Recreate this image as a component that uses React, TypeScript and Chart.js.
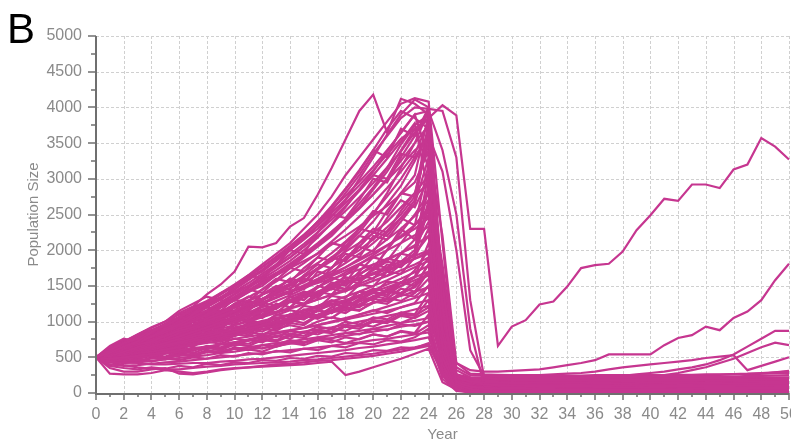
import React, { useEffect, useRef } from 'react';
import { Chart, registerables } from 'chart.js';

Chart.register(...registerables);

// Years (x categories)
const years = [
  0, 1, 2, 3, 4, 5, 6, 7, 8, 9, 10, 11, 12, 13, 14, 15, 16, 17, 18, 19, 20, 21, 22, 23, 24, 25,
  26, 27, 28, 29, 30, 31, 32, 33, 34, 35, 36, 37, 38, 39, 40, 41, 42, 43, 44, 45, 46, 47, 48, 49, 50,
];

// Y tick values
const yMajorTicks = [0, 500, 1000, 1500, 2000, 2500, 3000, 3500, 4000, 4500, 5000];
const yMinorTicks = [250, 750, 1250, 1750, 2250, 2750, 3250, 3750, 4250, 4750];

// Population trajectories (one per simulation run), years 0..50
const s01 = [
  500, 560, 650, 720, 850, 960, 1120, 1210, 1380, 1520,
  1700, 2050, 2040, 2100, 2330, 2450, 2780, 3150, 3550, 3950,
  4180, 3650, 4120, 4050, 3900, 1200, 150, 90, 70, 60,
  60, 60, 55, 55, 50, 50, 50, 45, 45, 45,
  40, 40, 40, 40, 35, 35, 35, 35, 30, 30, 30,
];
const s02 = [
  500, 580, 640, 700, 790, 880, 960, 1060, 1150, 1270,
  1390, 1500, 1640, 1780, 1900, 2050, 2250, 2470, 2700, 3000,
  3300, 3620, 3900, 4110, 4000, 1500, 220, 160, 150, 145,
  140, 140, 145, 150, 150, 145, 140, 140, 135, 140,
  145, 150, 150, 145, 140, 140, 135, 135, 140, 140, 140,
];
const s03 = [
  500, 560, 620, 700, 780, 850, 940, 1000, 1100, 1200,
  1300, 1420, 1500, 1650, 1750, 1900, 2050, 2200, 2400, 2600,
  2850, 3100, 3400, 3700, 3850, 4030, 3890, 2300, 2300, 660,
  930, 1020, 1240, 1280, 1490, 1750, 1790, 1810, 1980, 2280,
  2490, 2720, 2690, 2920, 2920, 2870, 3130, 3200, 3570, 3450, 3270,
];
const s04 = [
  500, 600, 700, 760, 880, 940, 1050, 1180, 1250, 1400,
  1520, 1650, 1800, 1950, 2100, 2300, 2500, 2750, 3050, 3300,
  3550, 3800, 4050, 4130, 4080, 2100, 260, 150, 120, 110,
  105, 100, 100, 100, 95, 95, 100, 100, 105, 105,
  100, 100, 95, 95, 100, 100, 100, 105, 105, 100, 100,
];
const s05 = [
  500, 540, 610, 680, 720, 800, 870, 920, 1010, 1080,
  1150, 1250, 1320, 1420, 1530, 1620, 1750, 1900, 2050, 2250,
  2500, 2800, 3150, 3500, 3950, 3400, 2500, 900, 100, 60,
  40, 30, 25, 20, 20, 20, 20, 20, 20, 20,
  20, 20, 20, 20, 20, 20, 20, 20, 20, 20, 20,
];
const s06 = [
  500, 570, 640, 720, 800, 900, 980, 1100, 1210, 1330,
  1460, 1600, 1700, 1850, 2000, 2150, 2350, 2550, 2800, 3050,
  3350, 3600, 3850, 4000, 3980, 3950, 3300, 1300, 220, 190,
  185, 180, 180, 180, 175, 175, 180, 180, 185, 185,
  180, 180, 175, 175, 170, 175, 180, 185, 190, 195, 200,
];
const s07 = [
  500, 520, 580, 640, 700, 760, 840, 900, 980, 1060,
  1140, 1230, 1320, 1410, 1500, 1620, 1750, 1880, 2030, 2200,
  2400, 2650, 2900, 3250, 3650, 1100, 120, 60, 30, 20,
  15, 10, 10, 10, 10, 10, 10, 10, 10, 10,
  10, 10, 10, 10, 10, 10, 10, 10, 10, 10, 10,
];
const s08 = [
  500, 590, 680, 780, 860, 960, 1070, 1200, 1290, 1400,
  1500, 1620, 1760, 1900, 2020, 2200, 2400, 2600, 2850, 3100,
  3400, 3700, 3950, 3850, 3700, 800, 100, 60, 50, 45,
  45, 40, 40, 40, 40, 40, 40, 40, 40, 40,
  40, 40, 40, 40, 40, 40, 40, 40, 40, 40, 40,
];
const s09 = [
  500, 550, 620, 690, 740, 820, 900, 960, 1040, 1120,
  1200, 1300, 1380, 1480, 1580, 1700, 1820, 1960, 2120, 2300,
  2520, 2750, 3000, 3300, 3600, 3100, 2000, 600, 240, 230,
  225, 225, 220, 220, 220, 215, 215, 220, 220, 225,
  225, 230, 230, 230, 225, 225, 230, 235, 240, 245, 250,
];
const s10 = [
  500, 560, 640, 700, 780, 860, 940, 1030, 1120, 1220,
  1310, 1420, 1540, 1650, 1780, 1920, 2080, 2250, 2430, 2650,
  2880, 3150, 3480, 3750, 3900, 600, 110, 90, 85, 80,
  80, 80, 80, 80, 80, 75, 75, 75, 75, 75,
  75, 75, 80, 80, 80, 80, 80, 80, 80, 80, 80,
];
const s11 = [
  500, 540, 590, 650, 700, 760, 830, 890, 960, 1030,
  1100, 1180, 1260, 1340, 1420, 1510, 1600, 1700, 1820, 1950,
  2100, 2270, 2450, 2650, 3300, 900, 160, 130, 125, 120,
  120, 120, 120, 115, 115, 115, 120, 120, 120, 120,
  120, 125, 125, 125, 120, 120, 120, 120, 120, 120, 120,
];
const s12 = [
  500, 580, 660, 720, 800, 850, 920, 1000, 1050, 1130,
  1220, 1290, 1380, 1450, 1530, 1640, 1730, 1850, 1980, 2100,
  2240, 2400, 2600, 2800, 3050, 500, 50, 20, 10, 5,
  5, 5, 5, 0, 0, 0, 0, 0, 0, 0,
  0, 0, 0, 0, 0, 0, 0, 0, 0, 0, 0,
];
const s13 = [
  500, 530, 580, 620, 680, 740, 790, 860, 920, 990,
  1060, 1120, 1200, 1290, 1370, 1460, 1560, 1650, 1760, 1880,
  2000, 2150, 2300, 2480, 2700, 1500, 230, 180, 170, 165,
  160, 160, 160, 160, 160, 155, 155, 160, 160, 160,
  160, 160, 160, 160, 165, 165, 160, 160, 160, 160, 160,
];
const s14 = [
  500, 560, 630, 690, 750, 820, 880, 950, 1010, 1080,
  1160, 1230, 1300, 1390, 1470, 1550, 1650, 1760, 1880, 2000,
  2150, 2320, 2500, 2750, 2950, 1800, 320, 220, 210, 205,
  200, 200, 200, 195, 195, 200, 200, 200, 205, 205,
  200, 200, 200, 200, 200, 205, 210, 215, 220, 220, 220,
];
const s15 = [
  500, 600, 710, 820, 910, 1000, 1100, 1180, 1280, 1330,
  1420, 1500, 1580, 1680, 1750, 1850, 1950, 2080, 2200, 2330,
  2480, 2620, 2780, 2950, 3400, 2200, 420, 270, 260, 255,
  250, 250, 250, 250, 245, 245, 250, 250, 250, 250,
  250, 250, 255, 255, 260, 260, 265, 270, 280, 290, 300,
];
const s16 = [
  500, 520, 560, 600, 650, 700, 760, 820, 880, 940,
  1000, 1070, 1140, 1220, 1300, 1390, 1480, 1580, 1690, 1800,
  1930, 2060, 2200, 2350, 2550, 700, 80, 40, 35, 30,
  30, 30, 30, 30, 30, 30, 30, 30, 30, 30,
  30, 30, 30, 30, 30, 30, 30, 30, 30, 30, 30,
];
const s17 = [
  500, 540, 600, 640, 700, 750, 800, 850, 910, 970,
  1030, 1090, 1150, 1210, 1280, 1350, 1420, 1500, 1580, 1670,
  1760, 1860, 1960, 2070, 2200, 600, 100, 75, 70, 70,
  70, 70, 70, 70, 70, 70, 70, 65, 65, 65,
  65, 65, 65, 65, 65, 65, 65, 65, 65, 65, 65,
];
const s18 = [
  500, 570, 620, 680, 730, 790, 840, 900, 950, 1010,
  1060, 1120, 1170, 1230, 1290, 1350, 1410, 1480, 1540, 1610,
  1680, 1760, 1840, 1920, 2000, 1100, 170, 120, 115, 110,
  110, 110, 110, 110, 110, 110, 110, 110, 110, 105,
  105, 105, 105, 110, 110, 110, 110, 110, 110, 110, 110,
];
const s19 = [
  500, 520, 560, 590, 630, 670, 710, 760, 800, 850,
  890, 940, 990, 1040, 1100, 1160, 1220, 1280, 1350, 1420,
  1500, 1580, 1670, 1760, 1850, 400, 40, 15, 10, 10,
  5, 5, 5, 5, 5, 5, 5, 5, 5, 5,
  5, 5, 5, 5, 5, 5, 5, 5, 5, 5, 5,
];
const s20 = [
  500, 580, 650, 740, 800, 880, 950, 1010, 1080, 1150,
  1200, 1260, 1320, 1370, 1430, 1480, 1540, 1600, 1660, 1730,
  1800, 1880, 1960, 2050, 2400, 1300, 230, 200, 195, 190,
  190, 190, 190, 190, 190, 190, 190, 190, 190, 190,
  190, 195, 195, 195, 195, 190, 190, 190, 190, 190, 190,
];
const s21 = [
  500, 550, 600, 660, 720, 770, 820, 880, 930, 990,
  1050, 1100, 1160, 1220, 1280, 1340, 1400, 1460, 1530, 1600,
  1660, 1730, 1800, 1880, 1950, 800, 120, 95, 90, 90,
  90, 90, 90, 90, 90, 90, 90, 90, 90, 90,
  90, 90, 90, 90, 90, 90, 90, 90, 90, 90, 90,
];
const s22 = [
  500, 540, 590, 620, 670, 700, 740, 790, 830, 870,
  920, 960, 1010, 1050, 1100, 1150, 1200, 1250, 1300, 1360,
  1420, 1480, 1550, 1620, 1700, 300, 40, 20, 15, 15,
  15, 15, 15, 15, 15, 15, 15, 15, 15, 15,
  15, 15, 15, 15, 15, 15, 15, 15, 15, 15, 15,
];
const s23 = [
  500, 510, 540, 580, 610, 650, 690, 730, 770, 810,
  860, 900, 950, 1000, 1050, 1110, 1170, 1230, 1300, 1370,
  1440, 1520, 1600, 1690, 1780, 1000, 260, 170, 160, 155,
  150, 150, 150, 150, 150, 150, 150, 150, 150, 150,
  150, 150, 150, 150, 150, 150, 150, 150, 150, 150, 150,
];
const s24 = [
  500, 560, 620, 700, 740, 800, 880, 940, 990, 1060,
  1130, 1200, 1270, 1340, 1410, 1480, 1560, 1640, 1720, 1810,
  1900, 2000, 2100, 2210, 2330, 1700, 360, 250, 240, 235,
  235, 235, 230, 230, 230, 230, 230, 235, 235, 240,
  240, 240, 245, 245, 250, 255, 260, 265, 270, 275, 280,
];
const s25 = [
  500, 520, 540, 560, 580, 610, 640, 670, 700, 730,
  760, 790, 820, 850, 880, 910, 950, 990, 1030, 1070,
  1110, 1150, 1200, 1250, 1300, 500, 90, 55, 50, 50,
  50, 50, 50, 50, 50, 50, 50, 50, 50, 50,
  50, 50, 50, 50, 50, 50, 50, 50, 50, 50, 50,
];
const s26 = [
  500, 480, 500, 520, 550, 570, 600, 630, 650, 680,
  710, 740, 770, 800, 830, 860, 890, 920, 960, 1000,
  1040, 1080, 1120, 1170, 1220, 400, 60, 30, 25, 25,
  25, 25, 25, 25, 25, 25, 25, 25, 25, 25,
  25, 25, 25, 25, 25, 25, 25, 25, 25, 25, 25,
];
const s27 = [
  500, 530, 570, 600, 640, 690, 730, 760, 800, 840,
  870, 910, 940, 980, 1010, 1050, 1090, 1130, 1170, 1220,
  1260, 1310, 1360, 1420, 1480, 600, 150, 135, 130, 130,
  130, 130, 130, 130, 130, 130, 130, 130, 130, 130,
  130, 130, 130, 130, 130, 130, 130, 130, 130, 130, 130,
];
const s28 = [
  500, 470, 450, 460, 480, 500, 520, 540, 570, 590,
  620, 640, 670, 700, 720, 750, 780, 810, 840, 870,
  900, 940, 980, 1010, 1050, 250, 40, 15, 10, 8,
  8, 8, 8, 8, 8, 8, 8, 8, 8, 8,
  8, 8, 8, 8, 8, 8, 8, 8, 8, 8, 8,
];
const s29 = [
  500, 440, 420, 430, 450, 470, 490, 510, 530, 560,
  580, 610, 630, 660, 690, 710, 740, 770, 800, 830,
  860, 890, 930, 960, 1000, 600, 190, 175, 170, 170,
  170, 170, 170, 170, 170, 170, 170, 170, 170, 170,
  170, 170, 170, 170, 170, 170, 170, 170, 170, 170, 170,
];
const s30 = [
  500, 400, 380, 390, 410, 430, 440, 460, 480, 500,
  520, 540, 560, 580, 600, 620, 640, 660, 690, 710,
  740, 760, 790, 820, 850, 200, 30, 10, 5, 0,
  0, 0, 0, 0, 0, 0, 0, 0, 0, 0,
  0, 0, 0, 0, 0, 0, 0, 0, 0, 0, 0,
];
const s31 = [
  500, 270, 260, 260, 280, 320, 300, 280, 300, 330,
  350, 360, 370, 380, 390, 400, 420, 440, 250, 300,
  360, 420, 480, 550, 620, 150, 50, 40, 35, 35,
  35, 35, 35, 35, 35, 35, 35, 35, 35, 35,
  35, 35, 35, 35, 35, 35, 35, 35, 35, 35, 35,
];
const s32 = [
  500, 350, 300, 300, 330, 350, 270, 260, 290, 320,
  340, 360, 380, 400, 410, 430, 450, 460, 480, 500,
  520, 550, 580, 620, 660, 300, 80, 65, 65, 65,
  65, 65, 65, 65, 65, 65, 65, 65, 65, 65,
  65, 65, 65, 65, 65, 65, 65, 65, 65, 65, 65,
];
const s33 = [
  500, 430, 390, 360, 340, 330, 330, 350, 370, 380,
  400, 410, 420, 430, 440, 460, 470, 490, 510, 530,
  550, 580, 610, 640, 680, 350, 120, 105, 105, 105,
  105, 105, 105, 105, 105, 105, 105, 105, 105, 105,
  105, 105, 105, 105, 105, 105, 105, 105, 105, 105, 105,
];
const s34 = [
  500, 460, 430, 420, 400, 400, 410, 420, 420, 440,
  450, 470, 480, 500, 520, 540, 560, 580, 600, 630,
  650, 680, 710, 740, 780, 250, 60, 45, 45, 45,
  45, 45, 45, 45, 45, 45, 45, 45, 45, 45,
  45, 45, 45, 45, 45, 45, 45, 45, 45, 45, 45,
];
const s35 = [
  500, 560, 650, 700, 760, 740, 800, 900, 880, 950,
  1050, 1000, 1100, 1250, 1200, 1350, 1500, 1450, 1650, 1800,
  1750, 2000, 2250, 2500, 2800, 300, 50, 20, 15, 12,
  12, 12, 12, 12, 12, 12, 12, 12, 12, 12,
  12, 12, 12, 12, 12, 12, 12, 12, 12, 12, 12,
];
const s36 = [
  500, 620, 700, 650, 750, 850, 800, 900, 1000, 950,
  1050, 1150, 1100, 1200, 1300, 1250, 1400, 1550, 1500, 1700,
  1900, 1850, 2100, 2350, 2600, 1000, 150, 95, 90, 85,
  85, 85, 85, 85, 85, 85, 85, 85, 85, 85,
  85, 85, 85, 85, 85, 85, 85, 85, 85, 85, 85,
];
const s37 = [
  500, 480, 550, 600, 580, 640, 700, 680, 750, 820,
  800, 870, 950, 920, 1000, 1100, 1050, 1150, 1250, 1200,
  1350, 1450, 1400, 1550, 1650, 700, 110, 80, 75, 75,
  75, 75, 75, 75, 75, 75, 75, 75, 75, 75,
  75, 75, 75, 75, 75, 75, 75, 75, 75, 75, 75,
];
const s38 = [
  500, 590, 660, 760, 820, 900, 1000, 1080, 1150, 1100,
  1250, 1350, 1300, 1450, 1600, 1550, 1750, 1900, 1850, 2100,
  2300, 2250, 2550, 2800, 3500, 1600, 260, 215, 210, 210,
  210, 210, 210, 210, 210, 210, 210, 210, 210, 210,
  210, 210, 210, 210, 210, 210, 210, 210, 210, 210, 210,
];
const s39 = [
  500, 540, 520, 580, 650, 620, 700, 760, 730, 800,
  880, 850, 930, 1000, 980, 1080, 1150, 1120, 1250, 1350,
  1300, 1450, 1550, 1500, 1700, 900, 140, 100, 95, 95,
  95, 95, 95, 95, 95, 95, 95, 95, 95, 95,
  95, 95, 95, 95, 95, 95, 95, 95, 95, 95, 95,
];
const s40 = [
  500, 550, 600, 660, 720, 780, 850, 900, 970, 1040,
  1110, 1180, 1250, 1330, 1410, 1490, 1580, 1670, 1760, 1860,
  1960, 2070, 2180, 2300, 2450, 1200, 420, 320, 300, 300,
  310, 320, 330, 360, 390, 420, 460, 540, 540, 540,
  540, 670, 770, 810, 930, 880, 1050, 1140, 1300, 1580, 1810,
];
const s41 = [
  500, 530, 570, 610, 660, 700, 750, 800, 850, 900,
  950, 1000, 1060, 1120, 1180, 1240, 1310, 1380, 1450, 1530,
  1610, 1700, 1790, 1880, 1980, 900, 220, 200, 210, 220,
  230, 240, 250, 260, 270, 280, 300, 330, 360, 380,
  400, 420, 440, 460, 490, 510, 530, 320, 380, 440, 500,
];
const s42 = [
  500, 510, 530, 560, 590, 620, 660, 700, 740, 780,
  820, 860, 900, 950, 1000, 1050, 1100, 1160, 1220, 1280,
  1350, 1420, 1500, 1580, 1660, 700, 150, 120, 130, 140,
  150, 160, 170, 180, 190, 200, 210, 220, 240, 260,
  280, 300, 330, 360, 400, 460, 540, 650, 760, 870, 870,
];
const s43 = [
  500, 560, 610, 650, 700, 750, 790, 840, 890, 940,
  990, 1040, 1090, 1140, 1190, 1250, 1310, 1370, 1430, 1500,
  1570, 1640, 1720, 1800, 1900, 800, 140, 100, 100, 105,
  110, 120, 130, 140, 150, 160, 170, 180, 190, 210,
  230, 250, 280, 320, 360, 420, 480, 560, 640, 705, 670,
];
const s44 = [
  500, 470, 480, 500, 520, 550, 580, 610, 640, 680,
  710, 750, 790, 830, 870, 910, 950, 1000, 1050, 1100,
  1150, 1210, 1270, 1330, 1400, 500, 90, 70, 70, 75,
  80, 85, 90, 95, 100, 105, 110, 110, 115, 115,
  120, 130, 140, 155, 170, 190, 210, 240, 270, 290, 310,
];
const s45 = [
  500, 620, 560, 700, 680, 820, 760, 900, 1010, 940,
  1100, 1050, 1230, 1180, 1350, 1300, 1480, 1620, 1550, 1800,
  1750, 2000, 2300, 2150, 2900, 700, 90, 60, 50, 50,
  50, 55, 55, 60, 60, 60, 55, 55, 50, 50,
  50, 50, 50, 55, 55, 55, 60, 60, 60, 60, 60,
];
const s46 = [
  500, 580, 700, 650, 800, 760, 900, 1050, 980, 1150,
  1100, 1280, 1220, 1400, 1520, 1450, 1700, 1650, 1900, 2050,
  1980, 2250, 2450, 2350, 3200, 1100, 130, 90, 80, 80,
  85, 85, 90, 90, 90, 90, 95, 95, 90, 90,
  90, 85, 85, 85, 90, 90, 90, 90, 90, 90, 90,
];
const s47 = [
  500, 540, 660, 600, 720, 850, 800, 950, 900, 1050,
  1200, 1150, 1300, 1450, 1380, 1600, 1550, 1750, 1950, 1900,
  2200, 2150, 2400, 2650, 3700, 900, 100, 70, 60, 60,
  60, 60, 60, 60, 60, 60, 60, 60, 60, 60,
  60, 60, 60, 60, 60, 60, 60, 60, 60, 60, 60,
];
const s48 = [
  500, 470, 560, 520, 600, 660, 620, 720, 780, 740,
  860, 820, 950, 900, 1020, 1100, 1060, 1200, 1150, 1300,
  1400, 1350, 1550, 1500, 1800, 600, 80, 50, 45, 40,
  40, 40, 40, 40, 40, 40, 40, 40, 40, 40,
  40, 40, 40, 40, 40, 40, 40, 40, 40, 40, 40,
];
const s49 = [
  500, 600, 650, 760, 720, 880, 850, 1000, 950, 1120,
  1250, 1200, 1380, 1500, 1450, 1650, 1800, 1750, 2000, 2200,
  2150, 2450, 2700, 2600, 3000, 1200, 180, 130, 120, 120,
  120, 115, 115, 115, 110, 110, 110, 110, 110, 110,
  110, 110, 110, 110, 110, 110, 110, 110, 110, 110, 110,
];
const s50 = [
  500, 520, 480, 560, 620, 580, 680, 650, 760, 720,
  820, 800, 900, 870, 980, 950, 1080, 1050, 1180, 1150,
  1280, 1250, 1380, 1350, 1500, 500, 70, 40, 35, 30,
  30, 30, 30, 30, 30, 30, 30, 30, 30, 30,
  30, 30, 30, 30, 30, 30, 30, 30, 30, 30, 30,
];
const s51 = [
  500, 560, 640, 600, 740, 700, 820, 900, 860, 1000,
  960, 1120, 1080, 1250, 1200, 1380, 1330, 1500, 1460, 1650,
  1600, 1800, 1760, 1950, 2200, 800, 120, 80, 70, 70,
  70, 70, 70, 70, 70, 70, 70, 70, 70, 70,
  70, 70, 70, 70, 70, 70, 70, 70, 70, 70, 70,
];
const s52 = [
  500, 450, 500, 470, 540, 510, 580, 560, 630, 600,
  680, 660, 740, 720, 800, 770, 860, 840, 930, 900,
  1000, 980, 1080, 1050, 1150, 400, 60, 30, 25, 20,
  20, 20, 20, 20, 20, 20, 20, 20, 20, 20,
  20, 20, 20, 20, 20, 20, 20, 20, 20, 20, 20,
];
const s53 = [
  500, 580, 620, 700, 660, 780, 740, 860, 820, 950,
  1000, 1100, 1050, 1200, 1300, 1250, 1400, 1500, 1450, 1650,
  1800, 1750, 1950, 2150, 2500, 1400, 250, 180, 170, 165,
  165, 165, 165, 165, 165, 165, 165, 165, 165, 165,
  165, 165, 165, 165, 165, 165, 165, 165, 165, 165, 165,
];
const s54 = [
  500, 520, 600, 560, 650, 720, 690, 780, 840, 800,
  900, 960, 930, 1020, 1100, 1060, 1150, 1250, 1200, 1320,
  1420, 1380, 1500, 1620, 1900, 1000, 200, 140, 135, 130,
  130, 130, 130, 130, 130, 130, 130, 130, 130, 130,
  130, 130, 130, 130, 130, 130, 130, 130, 130, 130, 130,
];
const s55 = [
  500, 640, 720, 800, 880, 860, 980, 1100, 1050, 1200,
  1300, 1280, 1450, 1600, 1550, 1750, 1900, 1850, 2100, 2300,
  2250, 2550, 2800, 2750, 3800, 1000, 120, 80, 70, 70,
  70, 70, 70, 70, 70, 70, 70, 70, 70, 70,
  70, 70, 70, 70, 70, 70, 70, 70, 70, 70, 70,
];
const s56 = [
  500, 430, 470, 440, 500, 470, 540, 510, 580, 560,
  620, 600, 670, 650, 720, 700, 780, 760, 840, 820,
  900, 880, 960, 940, 1000, 300, 50, 25, 20, 20,
  20, 20, 20, 20, 20, 20, 20, 20, 20, 20,
  20, 20, 20, 20, 20, 20, 20, 20, 20, 20, 20,
];
const s57 = [
  500, 560, 530, 620, 600, 700, 680, 780, 760, 870,
  850, 960, 940, 1060, 1040, 1170, 1150, 1290, 1270, 1420,
  1400, 1560, 1540, 1720, 2000, 900, 140, 100, 95, 90,
  90, 90, 90, 90, 90, 90, 90, 90, 90, 90,
  90, 90, 90, 90, 90, 90, 90, 90, 90, 90, 90,
];
const s58 = [
  500, 600, 680, 640, 760, 720, 840, 800, 940, 900,
  1050, 1010, 1160, 1120, 1280, 1240, 1420, 1380, 1580, 1540,
  1750, 1710, 1950, 1910, 2600, 1200, 200, 150, 145, 140,
  140, 140, 140, 140, 140, 140, 140, 140, 140, 140,
  140, 140, 140, 140, 140, 140, 140, 140, 140, 140, 140,
];
const s59 = [
  500, 540, 600, 580, 640, 700, 660, 740, 800, 760,
  840, 900, 860, 960, 1020, 980, 1090, 1160, 1120, 1240,
  1320, 1280, 1400, 1480, 1700, 700, 110, 70, 65, 60,
  60, 60, 60, 60, 60, 60, 60, 60, 60, 60,
  60, 60, 60, 60, 60, 60, 60, 60, 60, 60, 60,
];
const s60 = [
  500, 660, 760, 720, 860, 960, 920, 1080, 1200, 1150,
  1320, 1450, 1400, 1580, 1750, 1700, 1900, 2100, 2050, 2300,
  2550, 2500, 2800, 3050, 3900, 1300, 150, 100, 90, 85,
  85, 85, 85, 85, 85, 85, 85, 85, 85, 85,
  85, 85, 85, 85, 85, 85, 85, 85, 85, 85, 85,
];
const s61 = [
  500, 500, 540, 520, 570, 550, 610, 590, 660, 640,
  710, 690, 760, 740, 820, 800, 880, 860, 950, 930,
  1020, 1000, 1100, 1080, 1200, 500, 80, 45, 40, 40,
  40, 40, 40, 40, 40, 40, 40, 40, 40, 40,
  40, 40, 40, 40, 40, 40, 40, 40, 40, 40, 40,
];
const s62 = [
  500, 580, 540, 640, 610, 720, 690, 800, 770, 890,
  860, 990, 960, 1100, 1070, 1220, 1190, 1360, 1330, 1520,
  1490, 1700, 1670, 1900, 2300, 1000, 160, 110, 105, 100,
  100, 100, 100, 100, 100, 100, 100, 100, 100, 100,
  100, 100, 100, 100, 100, 100, 100, 100, 100, 100, 100,
];
const s63 = [
  500, 380, 350, 330, 360, 340, 380, 360, 410, 390,
  430, 420, 460, 450, 490, 480, 520, 510, 560, 550,
  600, 590, 640, 630, 700, 250, 40, 20, 15, 10,
  10, 10, 10, 10, 10, 10, 10, 10, 10, 10,
  10, 10, 10, 10, 10, 10, 10, 10, 10, 10, 10,
];
const s64 = [
  500, 620, 720, 820, 920, 1000, 1150, 1250, 1350, 1300,
  1500, 1650, 1600, 1800, 2000, 1950, 2250, 2500, 2450, 2700,
  3000, 2950, 3300, 3600, 4000, 1400, 160, 110, 100, 95,
  95, 95, 95, 95, 95, 95, 95, 95, 95, 95,
  95, 95, 95, 95, 95, 95, 95, 95, 95, 95, 95,
];
const s65 = [
  500, 460, 520, 490, 560, 600, 570, 640, 610, 690,
  660, 740, 710, 800, 760, 850, 820, 900, 870, 960,
  930, 1010, 980, 1060, 1300, 400, 60, 30, 25, 22,
  22, 22, 22, 22, 22, 22, 22, 22, 22, 22,
  22, 22, 22, 22, 22, 22, 22, 22, 22, 22, 22,
];
const s66 = [
  500, 540, 500, 580, 550, 630, 600, 680, 720, 690,
  760, 730, 810, 780, 870, 840, 930, 900, 1000, 960,
  1060, 1030, 1130, 1100, 1400, 600, 90, 55, 50, 48,
  48, 48, 48, 48, 48, 48, 48, 48, 48, 48,
  48, 48, 48, 48, 48, 48, 48, 48, 48, 48, 48,
];
const s67 = [
  500, 600, 560, 650, 720, 680, 780, 740, 830, 800,
  900, 870, 980, 940, 1070, 1030, 1160, 1120, 1260, 1220,
  1360, 1320, 1460, 1420, 1700, 800, 120, 85, 80, 78,
  78, 78, 78, 78, 78, 78, 78, 78, 78, 78,
  78, 78, 78, 78, 78, 78, 78, 78, 78, 78, 78,
];
const s68 = [
  500, 520, 580, 540, 620, 590, 540, 600, 650, 620,
  690, 660, 620, 680, 740, 710, 770, 740, 700, 760,
  820, 790, 860, 830, 950, 350, 50, 28, 22, 18,
  18, 18, 18, 18, 18, 18, 18, 18, 18, 18,
  18, 18, 18, 18, 18, 18, 18, 18, 18, 18, 18,
];
const s69 = [
  500, 570, 640, 610, 700, 770, 730, 820, 890, 850,
  950, 1020, 980, 1090, 1160, 1120, 1220, 1300, 1260, 1370,
  1460, 1420, 1540, 1630, 2100, 900, 150, 115, 110, 108,
  108, 108, 108, 108, 108, 108, 108, 108, 108, 108,
  108, 108, 108, 108, 108, 108, 108, 108, 108, 108, 108,
];
const s70 = [
  500, 480, 440, 480, 520, 490, 560, 530, 600, 570,
  640, 610, 580, 650, 700, 670, 740, 710, 780, 750,
  820, 790, 870, 840, 1100, 450, 70, 35, 30, 28,
  28, 28, 28, 28, 28, 28, 28, 28, 28, 28,
  28, 28, 28, 28, 28, 28, 28, 28, 28, 28, 28,
];
const s71 = [
  500, 590, 680, 640, 740, 820, 780, 880, 960, 920,
  1030, 1110, 1070, 1190, 1280, 1240, 1360, 1460, 1420, 1560,
  1680, 1640, 1800, 1950, 2700, 1100, 170, 125, 118, 115,
  115, 115, 115, 115, 115, 115, 115, 115, 115, 115,
  115, 115, 115, 115, 115, 115, 115, 115, 115, 115, 115,
];
const s72 = [
  500, 530, 600, 660, 620, 700, 760, 720, 810, 860,
  820, 920, 980, 940, 1050, 1120, 1080, 1200, 1280, 1240,
  1340, 1420, 1380, 1500, 1800, 700, 100, 60, 55, 52,
  52, 52, 52, 52, 52, 52, 52, 52, 52, 52,
  52, 52, 52, 52, 52, 52, 52, 52, 52, 52, 52,
];
const s73 = [
  500, 640, 740, 700, 820, 920, 880, 1000, 1120, 1080,
  1220, 1350, 1300, 1450, 1600, 1560, 1740, 1900, 1850, 2050,
  2250, 2200, 2450, 2700, 3600, 1200, 140, 95, 88, 82,
  82, 82, 82, 82, 82, 82, 82, 82, 82, 82,
  82, 82, 82, 82, 82, 82, 82, 82, 82, 82, 82,
];
const s74 = [
  500, 560, 620, 580, 680, 640, 740, 710, 800, 860,
  820, 900, 960, 920, 1010, 1080, 1040, 1130, 1200, 1160,
  1260, 1330, 1290, 1400, 1600, 600, 95, 62, 58, 55,
  55, 55, 55, 55, 55, 55, 55, 55, 55, 55,
  55, 55, 55, 55, 55, 55, 55, 55, 55, 55, 55,
];
const s75 = [
  500, 500, 560, 620, 580, 660, 620, 700, 760, 720,
  800, 860, 820, 900, 950, 910, 1000, 1060, 1020, 1100,
  1160, 1120, 1200, 1260, 1500, 500, 75, 42, 38, 36,
  36, 36, 36, 36, 36, 36, 36, 36, 36, 36,
  36, 36, 36, 36, 36, 36, 36, 36, 36, 36, 36,
];
const s76 = [
  500, 620, 700, 780, 740, 860, 940, 900, 1020, 1100,
  1060, 1180, 1260, 1220, 1340, 1420, 1380, 1520, 1620, 1580,
  1720, 1840, 1800, 1960, 2900, 1000, 130, 92, 86, 84,
  84, 84, 84, 84, 84, 84, 84, 84, 84, 84,
  84, 84, 84, 84, 84, 84, 84, 84, 84, 84, 84,
];
const s77 = [
  500, 450, 420, 460, 440, 480, 460, 500, 480, 530,
  510, 560, 540, 590, 570, 620, 600, 660, 640, 700,
  680, 740, 720, 780, 900, 300, 45, 22, 18, 16,
  16, 16, 16, 16, 16, 16, 16, 16, 16, 16,
  16, 16, 16, 16, 16, 16, 16, 16, 16, 16, 16,
];
const s78 = [
  500, 580, 660, 740, 700, 800, 880, 840, 960, 1040,
  1000, 1120, 1220, 1180, 1300, 1400, 1360, 1500, 1620, 1580,
  1740, 1880, 1840, 2000, 3100, 1300, 200, 140, 132, 128,
  128, 128, 128, 128, 128, 128, 128, 128, 128, 128,
  128, 128, 128, 128, 128, 128, 128, 128, 128, 128, 128,
];
const s79 = [
  500, 560, 640, 720, 800, 880, 960, 1050, 1150, 1250,
  1350, 1470, 1600, 1720, 1850, 2000, 2180, 2380, 2600, 2850,
  3100, 3380, 3650, 3900, 3300, 800, 100, 60, 50, 46,
  46, 46, 46, 46, 46, 46, 46, 46, 46, 46,
  46, 46, 46, 46, 46, 46, 46, 46, 46, 46, 46,
];
const s80 = [
  500, 590, 660, 740, 830, 920, 1010, 1120, 1230, 1340,
  1450, 1580, 1720, 1870, 2030, 2200, 2400, 2620, 2860, 3120,
  3400, 3300, 3700, 3600, 3950, 1000, 120, 75, 68, 66,
  66, 66, 66, 66, 66, 66, 66, 66, 66, 66,
  66, 66, 66, 66, 66, 66, 66, 66, 66, 66, 66,
];
const s81 = [
  500, 550, 610, 680, 760, 840, 930, 1020, 1100, 1200,
  1300, 1410, 1530, 1650, 1780, 1920, 2070, 2230, 2400, 2580,
  2780, 3000, 3250, 3500, 3750, 900, 110, 70, 64, 62,
  62, 62, 62, 62, 62, 62, 62, 62, 62, 62,
  62, 62, 62, 62, 62, 62, 62, 62, 62, 62, 62,
];
const s82 = [
  500, 610, 700, 790, 880, 970, 1060, 1170, 1280, 1390,
  1500, 1600, 1720, 1860, 2000, 2150, 2300, 2480, 2660, 2850,
  3050, 3280, 3520, 3780, 2800, 700, 90, 50, 44, 42,
  42, 42, 42, 42, 42, 42, 42, 42, 42, 42,
  42, 42, 42, 42, 42, 42, 42, 42, 42, 42, 42,
];
const s83 = [
  500, 530, 600, 660, 730, 800, 880, 960, 1050, 1140,
  1240, 1340, 1450, 1560, 1690, 1820, 1960, 2120, 2290, 2470,
  2660, 2870, 3100, 3350, 3800, 1100, 140, 100, 96, 94,
  94, 94, 94, 94, 94, 94, 94, 94, 94, 94,
  94, 94, 94, 94, 94, 94, 94, 94, 94, 94, 94,
];
const s84 = [
  500, 570, 650, 730, 810, 900, 990, 1090, 1200, 1310,
  1420, 1540, 1670, 1800, 1940, 2090, 2250, 2430, 2620, 2830,
  3050, 3000, 3350, 3300, 3600, 850, 100, 65, 58, 56,
  56, 56, 56, 56, 56, 56, 56, 56, 56, 56,
  56, 56, 56, 56, 56, 56, 56, 56, 56, 56, 56,
];
const s85 = [
  500, 600, 680, 770, 860, 950, 1050, 1150, 1260, 1380,
  1500, 1630, 1770, 1910, 2060, 2220, 2390, 2570, 2760, 2960,
  3170, 3400, 3640, 3900, 3950, 950, 120, 80, 72, 70,
  70, 70, 70, 70, 70, 70, 70, 70, 70, 70,
  70, 70, 70, 70, 70, 70, 70, 70, 70, 70, 70,
];
const s86 = [
  500, 540, 620, 690, 770, 850, 940, 1030, 1130, 1230,
  1330, 1440, 1560, 1680, 1810, 1950, 2100, 2260, 2430, 2600,
  2780, 2980, 3180, 3400, 3550, 1050, 130, 90, 85, 84,
  84, 84, 84, 84, 84, 84, 84, 84, 84, 84,
  84, 84, 84, 84, 84, 84, 84, 84, 84, 84, 84,
];
const s87 = [
  500, 580, 670, 750, 840, 930, 1030, 1130, 1230, 1340,
  1460, 1590, 1720, 1860, 2010, 2170, 2340, 2520, 2710, 2910,
  3120, 3340, 3560, 3700, 3150, 600, 80, 45, 40, 38,
  38, 38, 38, 38, 38, 38, 38, 38, 38, 38,
  38, 38, 38, 38, 38, 38, 38, 38, 38, 38, 38,
];
const s88 = [
  500, 560, 630, 710, 790, 870, 960, 1060, 1160, 1270,
  1380, 1500, 1630, 1760, 1900, 2050, 2200, 2370, 2550, 2740,
  2940, 3160, 3380, 3650, 3850, 1300, 160, 115, 110, 108,
  108, 108, 108, 108, 108, 108, 108, 108, 108, 108,
  108, 108, 108, 108, 108, 108, 108, 108, 108, 108, 108,
];

const runs = [
  s01, s02, s03, s04, s05, s06, s07, s08, s09, s10, s11, s12, s13, s14, s15, s16,
  s17, s18, s19, s20, s21, s22, s23, s24, s25, s26, s27, s28, s29, s30, s31, s32,
  s33, s34, s35, s36, s37, s38, s39, s40, s41, s42, s43, s44, s45, s46, s47, s48,
  s49, s50, s51, s52, s53, s54, s55, s56, s57, s58, s59, s60, s61, s62, s63, s64,
  s65, s66, s67, s68, s69, s70, s71, s72, s73, s74, s75, s76, s77, s78, s79, s80,
  s81, s82, s83, s84, s85, s86, s87, s88,
];

const LINE_COLOR = 'rgb(198, 54, 144)';
const GRID_COLOR = '#d0d0d0';
const AXIS_COLOR = '#6f6f6f';
const TEXT_COLOR = '#8a8a8a';
const FONT = "'Liberation Sans', Arial, sans-serif";

const decor = {
  id: 'decor',
  beforeDatasetsDraw(chart: any) {
    const { ctx, chartArea: a, scales } = chart;
    const x = scales.x;
    const y = scales.y;
    ctx.save();
    ctx.strokeStyle = GRID_COLOR;
    ctx.lineWidth = 1;
    ctx.setLineDash([3, 2]);
    yMajorTicks.forEach((v) => {
      const py = Math.round(y.getPixelForValue(v)) + 0.5;
      ctx.beginPath();
      ctx.moveTo(a.left, py);
      ctx.lineTo(a.right, py);
      ctx.stroke();
    });
    years.forEach((yr, i) => {
      if (yr % 2 !== 0) return;
      const px = Math.round(x.getPixelForValue(i)) + 0.5;
      ctx.beginPath();
      ctx.moveTo(px, a.top);
      ctx.lineTo(px, a.bottom);
      ctx.stroke();
    });
    ctx.restore();
  },
  afterDraw(chart: any) {
    const { ctx, chartArea: a, scales } = chart;
    const x = scales.x;
    const y = scales.y;
    ctx.save();
    ctx.strokeStyle = AXIS_COLOR;
    ctx.lineWidth = 2;
    ctx.setLineDash([]);
    ctx.beginPath();
    ctx.moveTo(a.left, a.top);
    ctx.lineTo(a.left, a.bottom + 1);
    ctx.lineTo(a.right, a.bottom + 1);
    ctx.stroke();
    ctx.lineWidth = 1.5;
    yMajorTicks.forEach((v) => {
      const py = Math.round(y.getPixelForValue(v));
      ctx.beginPath();
      ctx.moveTo(a.left - 8, py);
      ctx.lineTo(a.left, py);
      ctx.stroke();
    });
    yMinorTicks.forEach((v) => {
      const py = Math.round(y.getPixelForValue(v));
      ctx.beginPath();
      ctx.moveTo(a.left - 5, py);
      ctx.lineTo(a.left, py);
      ctx.stroke();
    });
    years.forEach((yr, i) => {
      const px = Math.round(x.getPixelForValue(i));
      const len = yr % 2 === 0 ? 7 : 4;
      ctx.beginPath();
      ctx.moveTo(px, a.bottom);
      ctx.lineTo(px, a.bottom + len);
      ctx.stroke();
    });
    ctx.fillStyle = '#000';
    ctx.font = `42px ${FONT}`;
    ctx.textBaseline = 'alphabetic';
    ctx.textAlign = 'left';
    ctx.fillText('B', 7, 43);
    ctx.restore();
  },
};

export default function App() {
  const canvasRef = useRef<HTMLCanvasElement | null>(null);

  useEffect(() => {
    if (!canvasRef.current) return;
    const chart = new Chart(canvasRef.current, {
      type: 'line',
      data: {
        labels: years,
        datasets: runs.map((r, i) => ({
          label: `Run ${i + 1}`,
          data: r,
          borderColor: LINE_COLOR,
          backgroundColor: LINE_COLOR,
          borderWidth: 2.2,
          pointRadius: 0,
          tension: 0,
          fill: false,
        })),
      },
      options: {
        animation: false,
        responsive: true,
        maintainAspectRatio: false,
        events: [],
        layout: { padding: { top: 36, right: 2, left: 0, bottom: 0 } },
        plugins: {
          legend: { display: false },
          tooltip: { enabled: false },
          title: { display: false },
        },
        scales: {
          x: {
            type: 'category',
            offset: false,
            grid: { display: false, drawTicks: false },
            border: { display: false },
            ticks: {
              autoSkip: false,
              maxRotation: 0,
              minRotation: 0,
              padding: 12,
              color: TEXT_COLOR,
              font: { family: FONT, size: 16 },
              callback: (_v: any, i: number) => (years[i] % 2 === 0 ? String(years[i]) : ''),
            },
            title: {
              display: true,
              text: 'Year',
              color: TEXT_COLOR,
              font: { family: FONT, size: 15, lineHeight: 1 },
              padding: { top: 0, bottom: -3 },
            },
            afterFit: (scale: any) => {
              scale.height = 46;
              scale.paddingLeft = 0;
              scale.paddingRight = 0;
            },
          },
          y: {
            type: 'linear',
            min: 0,
            max: 5000,
            grid: { display: false, drawTicks: false },
            border: { display: false },
            ticks: {
              stepSize: 250,
              autoSkip: false,
              padding: 14,
              color: TEXT_COLOR,
              font: { family: FONT, size: 16 },
              callback: (v: any) => (Number(v) % 500 === 0 ? String(v) : ''),
            },
            title: {
              display: true,
              text: 'Population Size',
              color: TEXT_COLOR,
              font: { family: FONT, size: 15, lineHeight: 1.2 },
              padding: { top: 25, bottom: 0 },
            },
            afterFit: (scale: any) => {
              scale.width = 96;
              scale.paddingTop = 0;
              scale.paddingBottom = 0;
            },
          },
        },
      },
      plugins: [decor],
    });
    return () => chart.destroy();
  }, []);

  return (
    <div style={{ position: 'absolute', left: 0, top: 0, width: 791, height: 439, background: '#fff' }}>
      <canvas ref={canvasRef} />
    </div>
  );
}
